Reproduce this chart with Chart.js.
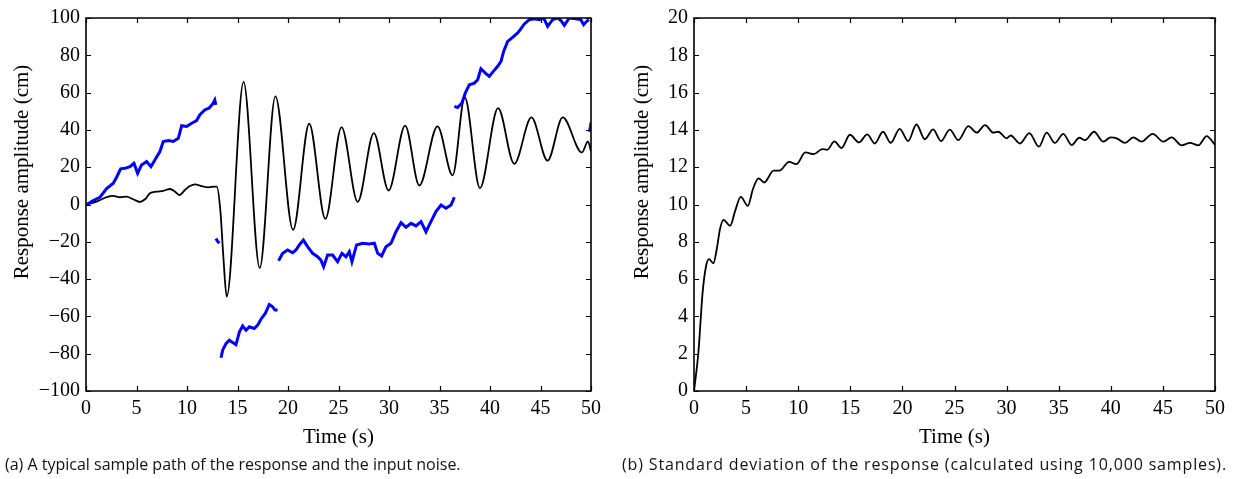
<!DOCTYPE html>
<html>
<head>
<meta charset="utf-8">
<script src="https://cdn.jsdelivr.net/npm/chart.js@4/dist/chart.umd.min.js"></script>
<style>
  html, body { margin: 0; padding: 0; background: #fff; }
  body { width: 1236px; height: 479px; position: relative; overflow: hidden; }
  #wrapA { position: absolute; left: 0; top: 0; width: 610px; height: 479px; }
  #wrapB { position: absolute; left: 608px; top: 0; width: 628px; height: 479px; }
  .cap { position: absolute; top: 454px; font-family: "Open Sans", sans-serif; font-size: 16px; color: #111; white-space: nowrap; line-height: 20px; }
</style>
</head>
<body>
<div id="wrapA"><canvas id="chartA" width="610" height="479"></canvas></div>
<div id="wrapB"><canvas id="chartB" width="628" height="479"></canvas></div>
<div class="cap" id="capA" style="left:5px;">(a) A typical sample path of the response and the input noise.</div>
<div class="cap" id="capB" style="left:622px; letter-spacing:0.85px;">(b) Standard deviation of the response (calculated using 10,000 samples).</div>
<script>
// ---------------- DATA ----------------
// Panel (a): response sample path (black)
const respTime = [0, 1.05, 2.04, 2.7, 3.36, 4.0, 4.68, 5.34, 5.84, 6.33, 6.99, 7.65, 8.31, 8.81, 9.24, 9.8, 10.29, 10.79, 11.45, 12.1, 12.77, 12.95, 13.3, 13.6, 13.93, 15.6, 17.2, 18.75, 20.5, 22.1, 23.7, 25.3, 26.9, 28.5, 29.96, 31.6, 33.0, 34.8, 36.3, 37.5, 39.0, 40.8, 42.4, 44.1, 45.7, 47.2, 49.1, 49.7, 50];
const respValue = [0, 1.5, 3.9, 4.6, 3.9, 4.2, 2.8, 1.35, 2.8, 6.0, 6.9, 7.3, 8.3, 6.9, 5.1, 7.8, 9.9, 10.8, 9.9, 9.2, 9.6, 9.6, -3, -28, -49.4, 65.7, -34, 58, -13.6, 43.3, -7.7, 41.5, 1.4, 38.3, 7.5, 42.3, 10.2, 41.9, 15.6, 57.5, 8.8, 51.7, 21.8, 46.7, 23.5, 46.7, 27.9, 33.8, 28.5];

// Panel (a): input noise (blue), segments separated by null
const noiseTime = [
  0, 0.72, 1.38, 2.04, 2.7, 3.03, 3.43, 3.86, 4.35, 4.75, 5.11, 5.5, 6.0, 6.43, 6.92, 7.32, 7.65, 8.15, 8.64, 9.14, 9.47, 9.96, 10.46, 10.95, 11.28, 11.78, 12.2, 12.6, 12.75, 12.86, null,
  12.87, 13.0, 13.2, null,
  13.37, 13.53, 13.86, 14.19, 14.52, 14.85, 15.19, 15.51, 15.84, 16.17, 16.66, 17.0, 17.32, 17.75, 18.15, 18.48, 18.71, 18.97, null,
  19.07, 19.47, 19.96, 20.46, 20.79, 21.12, 21.52, 21.94, 22.44, 22.93, 23.26, 23.53, 23.92, 24.42, 24.91, 25.34, 25.74, 26.07, 26.33, 26.79, 27.39, 28.05, 28.55, 28.88, 29.27, 29.7, 30.2, 30.69, 31.19, 31.68, 32.18, 32.67, 33.17, 33.66, 34.15, 34.65, 35.15, 35.64, 36.14, 36.47, null,
  36.47, 36.8, 37.22, 37.55, 37.95, 38.45, 38.78, 39.1, 39.54, 39.93, 40.33, 40.76, 41.09, 41.35, 41.75, 42.24, 42.74, 43.07, 43.4, 43.9, 44.39, 44.89, 45.32, 45.71, 46.2, 46.7, 47.03, 47.36, 47.85, 48.5, 49.0, 49.27, 49.57, 49.8, null,
  49.85, 49.95, 50
];
const noiseValue = [
  -0.3, 2.1, 3.9, 8.5, 11.4, 14.6, 19.1, 19.4, 20.3, 22.1, 16.7, 21.2, 23, 20.3, 24.8, 28.4, 33.8, 34.3, 33.8, 35.5, 42.2, 41.8, 43.6, 45.0, 48.1, 50.8, 51.7, 54.3, 56, 53.4, null,
  -18.2, -19.5, -20.8, null,
  -82.2, -78.1, -74.6, -72.8, -74, -75.1, -68.3, -65.1, -67.4, -65.6, -66.5, -64.7, -61.5, -58.4, -53.6, -54.9, -56.6, -56.6, null,
  -30.2, -26.2, -24.4, -25.9, -24.4, -21.7, -19.1, -22.6, -26.2, -28, -29.8, -33.4, -27.1, -27.1, -30.7, -26.2, -28, -25.3, -30.7, -21.7, -20.8, -21.2, -20.8, -26.2, -27.6, -22.6, -20.8, -14.6, -9.7, -12.2, -10.1, -11.5, -9.2, -14.6, -9.2, -3.8, -0.3, -2.0, -0.3, 3.9, null,
  52.6, 52.0, 54.4, 59.7, 64.2, 65.1, 66.9, 72.8, 70.5, 68.7, 71.4, 74.1, 76.7, 82.1, 87.5, 89.6, 92, 94.3, 96.8, 99.1, 99.6, 99.1, 100, 95.5, 99.1, 100, 98.6, 96.1, 100, 99.6, 99.1, 96.4, 98.2, 99.1, null,
  39, 42, 44
];

// Panel (b): standard deviation of the response
const stdTime = [0, 0.42, 0.83, 1.16, 1.44, 1.86, 2.18, 2.5, 2.83, 3.47, 3.95, 4.49, 5.17, 5.65, 6.2, 6.74, 7.64, 8.2, 9.12, 9.82, 10.69, 11.5, 12.3, 12.78, 13.48, 14.16, 14.96, 15.83, 16.63, 17.34, 18.14, 18.88, 19.74, 20.55, 21.35, 22.15, 22.95, 23.7, 24.55, 25.37, 26.33, 27.13, 27.93, 28.73, 29.2, 30.0, 30.39, 31.29, 32.18, 33.1, 33.84, 34.64, 35.44, 36.24, 36.98, 37.52, 38.39, 39.28, 39.99, 40.57, 41.37, 42.16, 42.96, 44.02, 45.04, 45.84, 46.8, 47.6, 48.4, 49.2, 50];
const stdValue = [0, 2.06, 5.3, 6.7, 7.07, 6.85, 7.6, 8.7, 9.18, 8.86, 9.66, 10.41, 9.93, 10.82, 11.4, 11.18, 11.82, 11.82, 12.29, 12.16, 12.79, 12.7, 12.97, 12.93, 13.38, 13.02, 13.74, 13.33, 13.76, 13.27, 13.9, 13.31, 14.06, 13.4, 14.29, 13.5, 14.03, 13.4, 14.02, 13.45, 14.2, 13.85, 14.26, 13.85, 13.9, 13.55, 13.7, 13.27, 13.83, 13.1, 13.85, 13.3, 13.79, 13.19, 13.58, 13.45, 13.9, 13.37, 13.6, 13.55, 13.3, 13.6, 13.37, 13.79, 13.37, 13.6, 13.17, 13.3, 13.17, 13.67, 13.2];

// Axis definitions
const timeTicks = [0, 5, 10, 15, 20, 25, 30, 35, 40, 45, 50];
const ampTicksA = [-100, -80, -60, -40, -20, 0, 20, 40, 60, 80, 100];
const ampTicksB = [0, 2, 4, 6, 8, 10, 12, 14, 16, 18, 20];
const xTitle = "Time (s)";
const yTitle = "Response amplitude (cm)";

// ---------------- HELPERS ----------------
function pts(xs, ys) {
  return xs.map((x, i) => (x === null || ys[i] === null) ? { x: NaN, y: null } : { x: x, y: ys[i] });
}
const TICK_FONT = { family: "'Liberation Serif', 'Times New Roman', serif", size: 20 };
const fmt = v => String(v).replace('-', '\u2212');

const framePlugin = {
  id: 'frame',
  afterDatasetsDraw(chart, args, opts) {
    const ctx = chart.ctx, a = chart.chartArea;
    const xs = chart.scales.x, ys = chart.scales.y;
    ctx.save();
    ctx.strokeStyle = '#000';
    ctx.lineWidth = 1.6;
    ctx.beginPath();
    ctx.rect(a.left, a.top, a.right - a.left, a.bottom - a.top);
    ctx.stroke();
    ctx.lineWidth = 1.2;
    const L = 5;
    ctx.beginPath();
    xs.ticks.forEach(t => {
      const px = Math.round(xs.getPixelForValue(t.value)) + 0.5;
      ctx.moveTo(px, a.bottom); ctx.lineTo(px, a.bottom - L);
      ctx.moveTo(px, a.top); ctx.lineTo(px, a.top + L);
    });
    ys.ticks.forEach(t => {
      const py = Math.round(ys.getPixelForValue(t.value)) + 0.5;
      ctx.moveTo(a.left, py); ctx.lineTo(a.left + L, py);
      ctx.moveTo(a.right, py); ctx.lineTo(a.right - L, py);
    });
    ctx.stroke();
    // axis titles
    ctx.fillStyle = '#000';
    ctx.font = "21px 'Liberation Serif', 'Times New Roman', serif";
    ctx.textAlign = 'center';
    ctx.textBaseline = 'middle';
    ctx.fillText(xTitle, (a.left + a.right) / 2, opts.xTitleY);
    ctx.translate(opts.yTitleX, opts.yTitleY);
    ctx.rotate(-Math.PI / 2);
    ctx.fillText(yTitle, 0, 0);
    ctx.restore();
  }
};

function makeChart(id, datasets, yTicks, yWidth, padRight, yTitleX) {
  return new Chart(document.getElementById(id), {
    type: 'line',
    data: { datasets: datasets },
    options: {
      responsive: false,
      animation: false,
      devicePixelRatio: 1,
      events: [],
      layout: { padding: { top: 18, right: padRight, bottom: 38, left: 0 } },
      plugins: {
        legend: { display: false },
        tooltip: { enabled: false },
        frame: { xTitleY: 437, yTitleX: yTitleX, yTitleY: 172 }
      },
      elements: { point: { radius: 0 } },
      scales: {
        x: {
          type: 'linear',
          min: 0, max: 50,
          afterBuildTicks: s => { s.ticks = timeTicks.map(v => ({ value: v })); },
          afterFit: s => { s.height = 50; },
          grid: { display: false, drawTicks: false },
          border: { display: false },
          ticks: { font: TICK_FONT, color: '#000', padding: 6, maxRotation: 0, autoSkip: false, callback: v => fmt(v) }
        },
        y: {
          type: 'linear',
          min: yTicks[0], max: yTicks[yTicks.length - 1],
          afterBuildTicks: s => { s.ticks = yTicks.map(v => ({ value: v })); },
          afterFit: s => { s.width = yWidth; },
          grid: { display: false, drawTicks: false },
          border: { display: false },
          ticks: { font: TICK_FONT, color: '#000', padding: 6, autoSkip: false, callback: v => fmt(v) }
        }
      }
    },
    plugins: [framePlugin]
  });
}

makeChart('chartA', [
  { data: pts(noiseTime, noiseValue), borderColor: '#0000ff', borderWidth: 3, tension: 0, spanGaps: false, fill: false },
  { data: pts(respTime, respValue), borderColor: '#000', borderWidth: 1.8, cubicInterpolationMode: 'monotone', fill: false }
], ampTicksA, 86, 19, 22);

makeChart('chartB', [
  { data: pts(stdTime, stdValue), borderColor: '#000', borderWidth: 1.8, cubicInterpolationMode: 'monotone', fill: false }
], ampTicksB, 86, 21, 34);
</script>
</body>
</html>
